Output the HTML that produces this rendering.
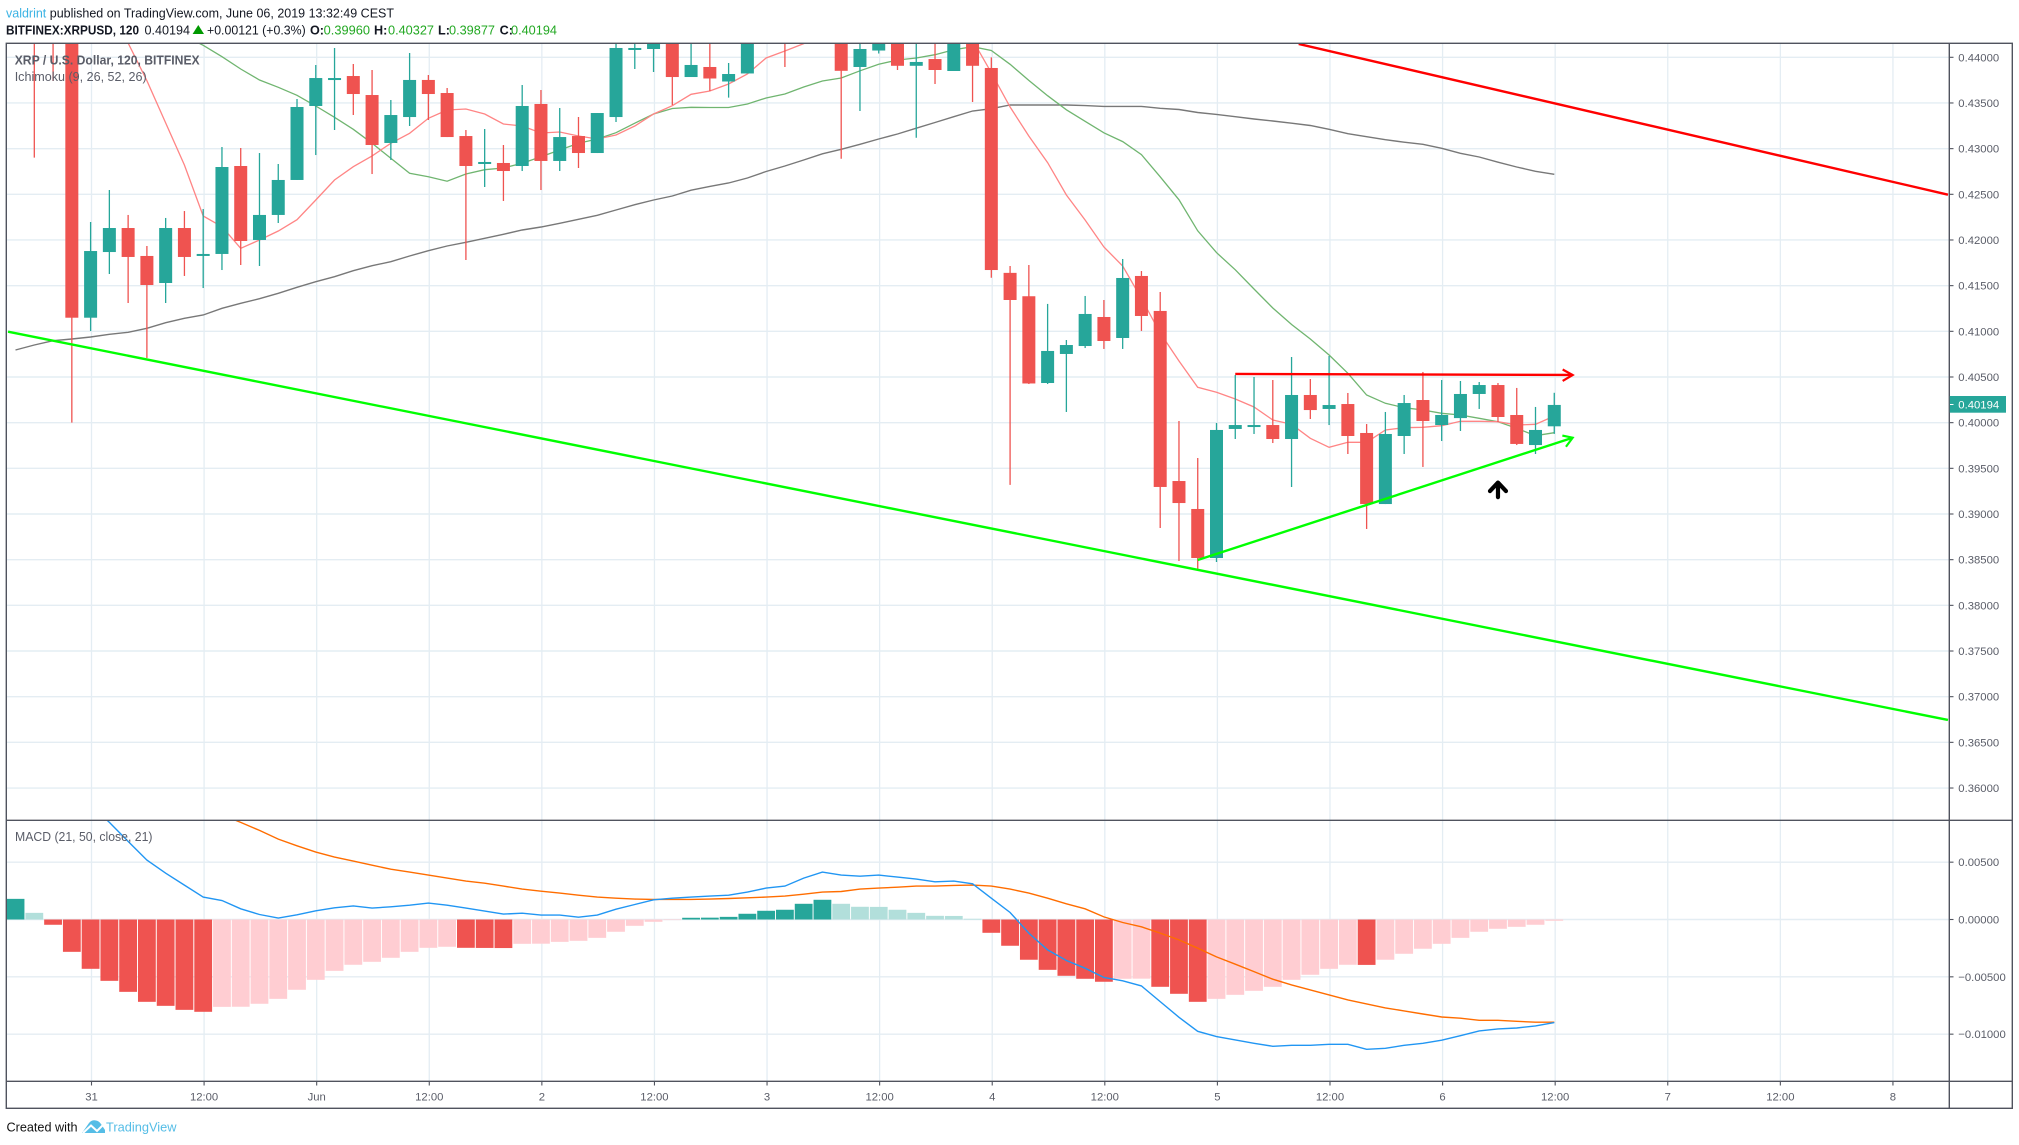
<!DOCTYPE html>
<html lang="en">
<head>
<meta charset="utf-8">
<title>XRP / U.S. Dollar chart</title>
<style>
html,body{margin:0;padding:0;background:#fff;width:2019px;height:1145px;overflow:hidden}
svg{display:block;font-family:"Liberation Sans",sans-serif}
.axis-text{font-size:11.3px;fill:#5a5d68}
.hdr{font-size:12.6px;fill:#131722}
.hdr-b{font-size:12.6px;fill:#131722;font-weight:bold}
.grn{font-size:12.6px;fill:#22a822}
.leg{font-size:12.6px;fill:#5a5d68}
</style>
</head>
<body>
<svg id="chart" width="2019" height="1145" viewBox="0 0 2019 1145" xmlns="http://www.w3.org/2000/svg">
  <defs>
    <clipPath id="main-clip"><rect x="6.6" y="43.6" width="1942.4" height="776.4"/></clipPath>
    <clipPath id="macd-clip"><rect x="6.6" y="820.6" width="1942.4" height="260.4"/></clipPath>
  </defs>
  <rect x="0" y="0" width="2019" height="1145" fill="#ffffff"/>

  <g id="grid"></g>
  <g id="main-pane" clip-path="url(#main-clip)">
    <g id="ichimoku"></g>
    <g id="candles"></g>
    <g id="drawings"></g>
  </g>
  <g id="macd-pane" clip-path="url(#macd-clip)">
    <g id="hist"></g>
    <g id="macd-lines"></g>
  </g>

  <g stroke="#50535e" stroke-width="1.4" fill="none">
    <rect x="6.3" y="43.3" width="2006" height="1065"/>
    <line x1="1949.3" y1="43.3" x2="1949.3" y2="1108.3"/>
    <line x1="6.3" y1="820.3" x2="2012.3" y2="820.3"/>
    <line x1="6.3" y1="1081.3" x2="2012.3" y2="1081.3"/>
  </g>
  <g id="axes"></g>

  <rect x="1949.8" y="396" width="56.2" height="16.7" fill="#26a69a"/>
  <line x1="1950" y1="404.5" x2="1953.5" y2="404.5" stroke="#fff" stroke-width="1"/>
  <text class="axis-text" style="fill:#fff" x="1958.3" y="408.3">0.40194</text>

  <text class="hdr" x="6" y="17.5" textLength="388" lengthAdjust="spacingAndGlyphs"><tspan fill="#3bb3e4">valdrint</tspan> published on TradingView.com, June 06, 2019 13:32:49 CEST</text>
  <text class="hdr-b" x="6" y="34.5" textLength="133" lengthAdjust="spacingAndGlyphs">BITFINEX:XRPUSD, 120</text>
  <text class="hdr" x="144.5" y="34.5" textLength="45.5" lengthAdjust="spacingAndGlyphs">0.40194</text>
  <polygon points="198.3,25 192.6,34 204,34" fill="#009900"/>
  <text class="hdr" x="207" y="34.5" textLength="98.7" lengthAdjust="spacingAndGlyphs">+0.00121 (+0.3%)</text>
  <text class="hdr-b" x="310" y="34.5">O:</text>
  <text class="grn" x="323.7" y="34.5" textLength="46.3" lengthAdjust="spacingAndGlyphs">0.39960</text>
  <text class="hdr-b" x="374" y="34.5">H:</text>
  <text class="grn" x="388" y="34.5" textLength="46" lengthAdjust="spacingAndGlyphs">0.40327</text>
  <text class="hdr-b" x="438" y="34.5">L:</text>
  <text class="grn" x="449" y="34.5" textLength="46" lengthAdjust="spacingAndGlyphs">0.39877</text>
  <text class="hdr-b" x="499.6" y="34.5">C:</text>
  <text class="grn" x="511" y="34.5" textLength="46" lengthAdjust="spacingAndGlyphs">0.40194</text>

  <text class="leg" style="font-weight:bold" x="14.7" y="64.5" textLength="185" lengthAdjust="spacingAndGlyphs">XRP / U.S. Dollar, 120, BITFINEX</text>
  <text class="leg" x="14.7" y="81" textLength="132" lengthAdjust="spacingAndGlyphs">Ichimoku (9, 26, 52, 26)</text>
  <text class="leg" x="15" y="841" textLength="137.5" lengthAdjust="spacingAndGlyphs">MACD (21, 50, close, 21)</text>

  <text class="hdr" style="fill:#111" x="6.5" y="1131.5" textLength="71" lengthAdjust="spacingAndGlyphs">Created with</text>
  <g>
    <path d="M82 1133 L89 1123 Q92 1119.5 96 1120.5 Q99 1121 101 1124 L105 1130 L105 1133 Z" fill="#55bde6"/>
    <polyline points="83,1133 91,1125.5 97,1131 105,1123" fill="none" stroke="#fff" stroke-width="2"/>
    <text x="106" y="1131.5" font-size="13" fill="#55bde6" textLength="70.5" lengthAdjust="spacingAndGlyphs">TradingView</text>
  </g>
</svg>

<script>
const timeTickBars = [0,6,12,18,24,30,36,42,48,54,60,66,72,78,84,90,96];
const timeTickLabels = ['31','12:00','Jun','12:00','2','12:00','3','12:00','4','12:00','5','12:00','6','12:00','7','12:00','8'];
const priceTicks = [0.44,0.435,0.43,0.425,0.42,0.415,0.41,0.405,0.40,0.395,0.39,0.385,0.38,0.375,0.37,0.365,0.36];
const macdTicks = [0.005,0,-0.005,-0.01];
const macdTickLabels = ['0.00500','0.00000','\u22120.00500','\u22120.01000'];

const candleStart = -3;
const opens = [.45,.445,.45,
.41149,.41868,.42131,.41825,.41529,.42131,.41825,.41847,.4281,.42,
.42274,.42657,.43467,.43752,.43795,.43587,.43062,.43346,.43752,.43609,
.43138,.42832,.42843,.4281,.43489,.42865,.43138,.42952,.43346,.44091,
.44091,.4435,.43784,.43894,.43735,.43823,.442,.444,.443,.446,
.445,.43894,.44074,.4435,.43907,.43981,.4385,.4425,.43883,.4164,
.41384,.40434,.40752,.40839,.41157,.40927,.41606,.41223,.39361,.39055,
.38518,.39931,.39953,.39974,.39821,.40303,.4015,.40204,.39887,.39109,
.39854,.40248,.39974,.4005,.40314,.40412,.40084,.39755,.3996];
const highs = [.455,.45,.455,
.42197,.42547,.42274,.41934,.42241,.42317,.42339,.43018,.43007,.42952,
.42832,.43543,.43916,.44102,.43927,.43861,.43533,.44047,.43806,.43664,
.43204,.43215,.4304,.43697,.43642,.43445,.43346,.4339,.4425,.4425,
.443,.444,.4425,.4425,.43938,.443,.443,.445,.447,.448,
.446,.4425,.4435,.444,.4425,.4425,.443,.443,.43999,.41715,
.41726,.413,.40905,.41387,.41343,.41792,.4166,.41431,.40018,.39613,
.39996,.40522,.405,.40467,.40719,.40478,.4073,.40325,.39985,.40117,
.40303,.40555,.40467,.40456,.40445,.40434,.4038,.40172,.40327];
const lows = [.42901,.43741,.40,
.41004,.41628,.4131,.40708,.4131,.41606,.41474,.41671,.41726,.41715,
.42186,.42657,.4293,.43204,.43368,.42722,.42876,.43248,.43314,.43127,
.41781,.4258,.42427,.42755,.42547,.42755,.42788,.42952,.43292,.43872,
.43839,.43478,.43784,.43631,.43559,.43823,.44145,.43894,.4425,.4425,
.42889,.43412,.44041,.43861,.43119,.43708,.4385,.43511,.41586,.39319,
.40423,.40423,.40117,.40817,.40807,.40807,.41004,.38847,.38486,.38398,
.38475,.39821,.39876,.39777,.39296,.4004,.39974,.39657,.38836,.39109,
.39657,.39515,.39799,.39909,.4015,.40007,.39755,.39657,.39877];
const closes = [.444,.443,.41149,
.41879,.42131,.41814,.41507,.42131,.41814,.41847,.42799,.41989,.42274,
.42657,.43456,.43773,.43773,.43598,.4304,.43368,.43752,.43598,.43127,
.4281,.42854,.42755,.43467,.42865,.43127,.42952,.4339,.44102,.44102,
.4425,.43784,.43916,.43768,.43817,.4425,.4425,.442,.446,.447,
.43852,.44091,.443,.43907,.43949,.43861,.4425,.43907,.41671,.41343,
.40429,.40785,.4085,.4119,.40894,.41584,.41168,.39296,.3912,.38518,
.3992,.39974,.39974,.39821,.40303,.40138,.40193,.39854,.39109,.39876,
.40215,.40018,.40084,.40314,.40412,.40062,.39767,.3992,.40194];

const tenkanStart = 2;
const tenkan = [.44157,.43744,.43281,.42821,.42263,.42145,.41909,.42,
.42098,.42222,.42438,.42657,.42802,.4292,.43058,.43168,.43332,.43423,
.43434,.43379,.4327,.43248,.43171,.43182,.43138,.43106,.43149,.43248,
.43379,.4347,.43595,.43631,.43708,.43817,.43992,.44069,.4415,.4425,
.443,.4435,.4435,.4435,.4435,.443,.4425,.44189,.43831,.43456,
.43138,.42847,.42492,.42219,.41923,.41715,.41359,.40982,.40675,.40387,
.40332,.40259,.40171,.40029,.39982,.39829,.3973,.39785,.39785,.3992,
.39945,.39949,.39967,.40015,.40015,.40011,.39974,.39982,.40073];

const kijunStart = 5;
const kijun = [.44233,.44131,.44007,.43872,.43752,
.43672,.43584,.43467,.43343,.43212,.43058,.42894,.4273,.42693,.42643,
.42722,.42769,.42788,.42839,.42912,.42985,.43058,.43106,.43175,.43278,
.43379,.43439,.43453,.4345,.4345,.43489,.43554,.43598,.43675,.43741,
.43773,.43852,.43923,.4397,.43992,.44028,.44083,.44116,.44074,.43923,
.43747,.4358,.43425,.43299,.43173,.43077,.42935,.42692,.4244,.42101,
.41862,.41674,.41463,.41255,.41075,.40916,.40741,.4054,.40303,.40212,
.40164,.40139,.40103,.40084,.40048,.40011,.39938,.39857,.3989];

const laggingStart = -4;
const lagging = [.40796,.4085,.40897,.40916,
.40938,.40967,.40989,.41033,.41094,.41143,.41179,.41252,.41307,.41357,
.41416,.41482,.41543,.41598,.41664,.41718,.41762,.41825,.41883,.41934,
.41975,.42018,.42062,.42109,.42142,.42183,.42226,.4227,.42328,.42386,
.42438,.42482,.42545,.42587,.42624,.42679,.4275,.4281,.42876,.42944,
.42993,.43048,.43106,.4316,.43224,.43286,.4335,.43412,.43437,.43478,
.43478,.43478,.43478,.43471,.43462,.43462,.43462,.43442,.43429,.43396,
.43375,.4335,.43324,.43303,.43278,.43253,.43212,.43164,.43131,.43098,
.4307,.43048,.43004,.42949,.42909,.42851,.42799,.42752,.42719];

const histStart = -4;
const histogram = [.0018,.00058,-.00046,-.00282,
-.0043,-.00535,-.00631,-.00718,-.00753,-.00788,-.00805,-.00762,-.00761,-.00735,
-.00692,-.00613,-.00526,-.00448,-.00395,-.00369,-.00334,-.00282,-.00247,-.00238,
-.00247,-.00248,-.00249,-.00212,-.00211,-.00195,-.00186,-.0016,-.00107,-.00055,
-.0002,-.00003,.00015,.00016,.00023,.0005,.00076,.00085,.00137,.00172,
.00137,.00111,.0011,.00085,.00058,.00032,.00031,.00006,-.00116,-.00229,
-.00351,-.00439,-.00491,-.00517,-.00543,-.00517,-.00516,-.00587,-.00648,-.00718,
-.00692,-.00657,-.00622,-.00587,-.00526,-.00482,-.0043,-.00395,-.00396,-.00351,
-.00299,-.00255,-.00212,-.0016,-.00107,-.00081,-.00064,-.00046,-.00011];

const macdStart = 0;
const macdLine = [.01,.00847,.00681,.00518,.00404,.003,.00195,.00166,.00093,.00044,
.00012,.00041,.00076,.00102,.00119,.00099,.00111,.00125,.00143,.00125,
.00099,.00073,.00047,.00055,.00038,.00038,.0002,.00038,.0009,.00131,
.00172,.00186,.00195,.00204,.00212,.00239,.00274,.00291,.00361,.00413,
.00387,.00378,.00387,.0037,.00352,.00329,.00335,.00311,.00186,.00061,
-.00119,-.00265,-.00358,-.00425,-.00506,-.00535,-.00579,-.00716,-.00853,-.00975,
-.01021,-.0105,-.0108,-.01106,-.01097,-.01097,-.01088,-.01088,-.01132,-.01123,
-.01097,-.0108,-.01053,-.01013,-.00972,-.00954,-.00946,-.00928,-.00899];

const signalStart = 7;
const signalLine = [.00914,.00847,.00777,
.00701,.00643,.00588,.00544,.00509,.00474,.00439,.00413,.00387,.00361,
.00335,.00317,.00291,.00265,.00247,.0023,.00212,.00195,.00186,.00178,
.00175,.00175,.00175,.00178,.00183,.00189,.00195,.00204,.00221,.00239,
.00244,.00265,.00274,.00282,.00291,.00291,.00297,.003,.00291,.00265,
.0023,.00186,.00137,.00093,.00023,-.00026,-.00064,-.00119,-.00178,-.0025,
-.00326,-.0039,-.00454,-.00521,-.0057,-.00614,-.00658,-.00701,-.00736,-.00771,
-.00797,-.00824,-.0085,-.00861,-.00879,-.00879,-.00888,-.00896,-.00896];

const supportBars = [-4.4, 98.98];
const supportPrices = [.40996, .36745];
const resistanceBars = [64.38, 98.98];
const resistancePrices = [.44146, .42496];
const risingBars = [59, 78.98];
const risingPrices = [.38496, .39835];
const levelBars = [61, 78.98];
const levelPrices = [.40533, .40522];
const markerBar = 75;
const markerPrice = .39267;

const NS = 'http://www.w3.org/2000/svg';
function barX(i){ return 90.6 + 18.765 * i; }
function tickX(i){ return barX(i) + 0.9; }
function priceY(p){ return 57.3 + (0.44 - p) * 9134; }
function macdY(v){ return 919.5 - v * 11466; }
function make(tag, attrs, parent){
  const el = document.createElementNS(NS, tag);
  for (const k in attrs) el.setAttribute(k, attrs[k]);
  parent.appendChild(el);
  return el;
}
const gridG = document.getElementById('grid');
const axesG = document.getElementById('axes');
const GRID = '#e4edf3';
const AXIS = '#50535e';

priceTicks.forEach(function(p){
  const y = priceY(p);
  const g = make('line', {x1:6.6, x2:1949, y1:y, y2:y, stroke:GRID, 'stroke-width':1.4}, gridG);
  
  
  const t = make('line', {x1:1949.3, x2:1953.5, y1:y, y2:y, stroke:AXIS, 'stroke-width':1.1}, axesG);
  
  
  const l = make('text', {x:1958.3, y:y+4, 'class':'axis-text'}, axesG);
  
  
  l.textContent = p.toFixed(5);
});
macdTicks.forEach(function(v, k){
  const y = macdY(v);
  const g = make('line', {x1:6.6, x2:1949, y1:y, y2:y, stroke:GRID, 'stroke-width':1.4}, gridG);
  
  
  const t = make('line', {x1:1949.3, x2:1953.5, y1:y, y2:y, stroke:AXIS, 'stroke-width':1.1}, axesG);
  
  
  const l = make('text', {x:1958.3, y:y+4, 'class':'axis-text'}, axesG);
  
  
  l.textContent = macdTickLabels[k];
});
timeTickBars.forEach(function(b, k){
  const x = tickX(b);
  const g = make('line', {x1:x, x2:x, y1:43.6, y2:1081, stroke:GRID, 'stroke-width':1.3}, gridG);
  
  
  const t = make('line', {x1:x, x2:x, y1:1081.3, y2:1085.5, stroke:AXIS, 'stroke-width':1.1}, axesG);
  
  
  const l = make('text', {x:x, y:1100.5, 'text-anchor':'middle', 'class':'axis-text'}, axesG);
  
  
  l.textContent = timeTickLabels[k];
});

function linePath(values, start, yFn){
  return values.map(function(v, k){
    return (k ? 'L' : 'M') + barX(start + k).toFixed(1) + ' ' + yFn(v).toFixed(1);
  }).join(' ');
}
const ichiG = document.getElementById('ichimoku');
const lagEl = make('path', {d:linePath(lagging, laggingStart, priceY), fill:'none', stroke:'#787878', 'stroke-width':1.4}, ichiG);


const kijEl = make('path', {d:linePath(kijun, kijunStart, priceY), fill:'none', stroke:'#70b570', 'stroke-width':1.3}, ichiG);


const tenEl = make('path', {d:linePath(tenkan, tenkanStart, priceY), fill:'none', stroke:'#ff8585', 'stroke-width':1.3}, ichiG);



const candleG = document.getElementById('candles');
opens.forEach(function(o, k){
  const i = candleStart + k;
  const c = closes[k];
  const col = c >= o ? '#26a69a' : '#ef5350';
  const x = barX(i);
  const wick = make('line', {x1:x, x2:x, y1:priceY(highs[k]), y2:priceY(lows[k]), stroke:col, 'stroke-width':1.3}, candleG);
  
  
  const top = priceY(Math.max(o, c));
  const bot = priceY(Math.min(o, c));
  const body = make('rect', {x:x - 6.5, y:top, width:13, height:Math.max(bot - top, 2), fill:col}, candleG);
  
  
});

const drawG = document.getElementById('drawings');
const supEl = make('line', {x1:barX(supportBars[0]), y1:priceY(supportPrices[0]), x2:barX(supportBars[1]), y2:priceY(supportPrices[1]), stroke:'#00ff00', 'stroke-width':2.4}, drawG);


const resEl = make('line', {x1:barX(resistanceBars[0]), y1:priceY(resistancePrices[0]), x2:barX(resistanceBars[1]), y2:priceY(resistancePrices[1]), stroke:'#ff0000', 'stroke-width':2.4}, drawG);


const riseEl = make('line', {x1:barX(risingBars[0]), y1:priceY(risingPrices[0]), x2:barX(risingBars[1]), y2:priceY(risingPrices[1]), stroke:'#00ff00', 'stroke-width':2.4}, drawG);


const gx = barX(risingBars[1]);
const gy = priceY(risingPrices[1]);
const riseHead = make('polyline', {points:(gx-10.3)+','+(gy-2.2)+' '+gx+','+gy+' '+(gx-6.7)+','+(gy+9), fill:'none', stroke:'#00ff00', 'stroke-width':2.2}, drawG);


const lvlEl = make('line', {x1:barX(levelBars[0]), y1:priceY(levelPrices[0]), x2:barX(levelBars[1]), y2:priceY(levelPrices[1]), stroke:'#ff0000', 'stroke-width':2.4}, drawG);


const rx = barX(levelBars[1]);
const ry = priceY(levelPrices[1]);
const lvlHead = make('polyline', {points:(rx-10)+','+(ry-5.5)+' '+rx+','+ry+' '+(rx-10)+','+(ry+6), fill:'none', stroke:'#ff0000', 'stroke-width':2.2}, drawG);


const mx = barX(markerBar);
const my = priceY(markerPrice);
const mark = make('path', {d:'M'+(mx-8)+' '+(my+1.5)+' L'+mx+' '+(my-7)+' L'+(mx+8)+' '+(my+1.5)+' M'+mx+' '+(my-6)+' L'+mx+' '+(my+7.5), fill:'none', stroke:'#000', 'stroke-width':4.2, 'stroke-linejoin':'round', 'stroke-linecap':'round'}, drawG);



const histG = document.getElementById('hist');
histogram.forEach(function(v, k){
  const prev = k ? histogram[k-1] : v;
  let col;
  if (v >= 0) col = v >= prev ? '#26a69a' : '#b2dfdb';
  else col = v <= prev ? '#ef5350' : '#ffcdd2';
  const y0 = macdY(0);
  const y1 = macdY(v);
  const b = make('rect', {x:barX(histStart + k) - 8.9, y:Math.min(y0, y1), width:17.8, height:Math.max(Math.abs(y1 - y0), 0.6), fill:col}, histG);
  
  
});
const macdG = document.getElementById('macd-lines');
const sigEl = make('path', {d:linePath(signalLine, signalStart, macdY), fill:'none', stroke:'#ff6d00', 'stroke-width':1.4}, macdG);


const maEl = make('path', {d:linePath(macdLine, macdStart, macdY), fill:'none', stroke:'#2196f3', 'stroke-width':1.4}, macdG);


</script>
</body>
</html>
